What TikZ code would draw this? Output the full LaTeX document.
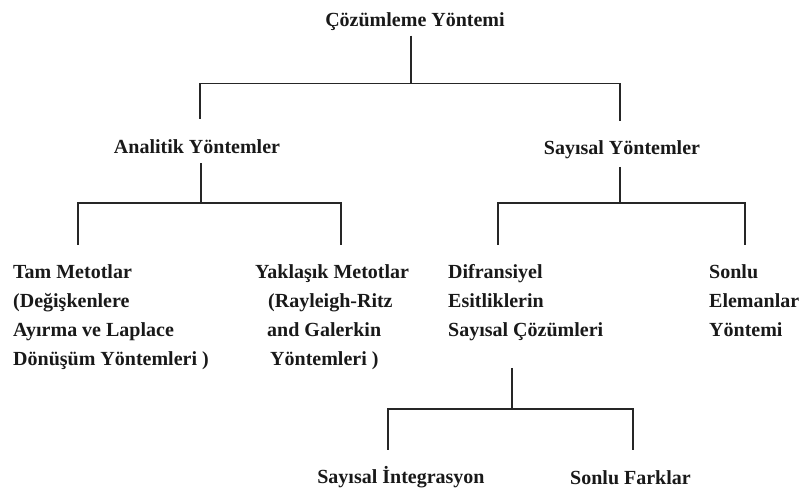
\documentclass[tikz,border=0pt]{standalone}
\usepackage{fontspec}
\setmainfont{Liberation Serif}
\usepackage{tikz}
\usetikzlibrary{positioning, calc}

\begin{document}
\begin{tikzpicture}[
    x=1pt, y=-1pt,
    lbl/.style={inner sep=0pt, align=left, font=\fontsize{20}{29}\selectfont\bfseries, text=black!90},
    tree/.style={line width=1.6pt, color=black!85}
]
    \useasboundingbox (0,0) rectangle (801,492);

    % Nodes
    \node[lbl] (root) at (415,22) {Çözümleme Yöntemi};
    \node[lbl] (ana) at (197,147) {Analitik Yöntemler};
    \node[lbl] (say) at (622,150) {Sayısal Yöntemler};

    \node[lbl, anchor=north west] (tam) at (13,264) {Tam Metotlar\\(Değişkenlere\\Ayırma ve Laplace\\Dönüşüm Yöntemleri )};
    \node[lbl, anchor=north west] (yak) at (255,264) {Yaklaşık Metotlar\\\hspace*{13pt}(Rayleigh-Ritz\\\hspace*{12pt}and Galerkin\\\hspace*{15pt}Yöntemleri )};
    \node[lbl, anchor=north west] (dif) at (448,264) {Difransiyel\\Esitliklerin\\Sayısal Çözümleri};
    \node[lbl, anchor=north west] (sfe) at (709,264) {Sonlu\\Elemanlar\\Yöntemi};

    \node[lbl] (sint) at (401,477) {Sayısal İntegrasyon};
    \node[lbl, anchor=west] (sfar) at (570,478) {Sonlu Farklar};

    % Connectors
    \draw[tree, shorten <=4.5pt, shorten >=20.7pt] ([xshift=-4pt]root.south) -- ++(0,52.5) -| ([xshift=3pt]ana.north);
    \draw[tree, shorten >=19.5pt] ([xshift=-4pt]root.south) ++(0,52.5) -| ([xshift=-2pt]say.north);

    \draw[tree, shorten <=9pt, shorten >=19pt] ([xshift=4pt]ana.south) -- ++(0,49) -| ([xshift=65pt]tam.north west);
    \draw[tree, shorten >=19pt] ([xshift=4pt]ana.south) ++(0,49) -| ([xshift=86pt]yak.north west);

    \draw[tree, shorten <=7.5pt, shorten >=19pt] ([xshift=-2pt]say.south) -- ++(0,43.5) -| ([xshift=50pt]dif.north west);
    \draw[tree, shorten >=19pt] ([xshift=-2pt]say.south) ++(0,43.5) -| ([xshift=36pt]sfe.north west);

    \draw[tree, shorten <=27pt, shorten >=16.5pt] ([xshift=64pt]dif.south west) -- ++(0,68) -| ([xshift=-13pt]sint.north);
    \draw[tree, shorten >=21pt] ([xshift=64pt]dif.south west) ++(0,68) -| ([xshift=63pt]sfar.north west);
\end{tikzpicture}
\end{document}
